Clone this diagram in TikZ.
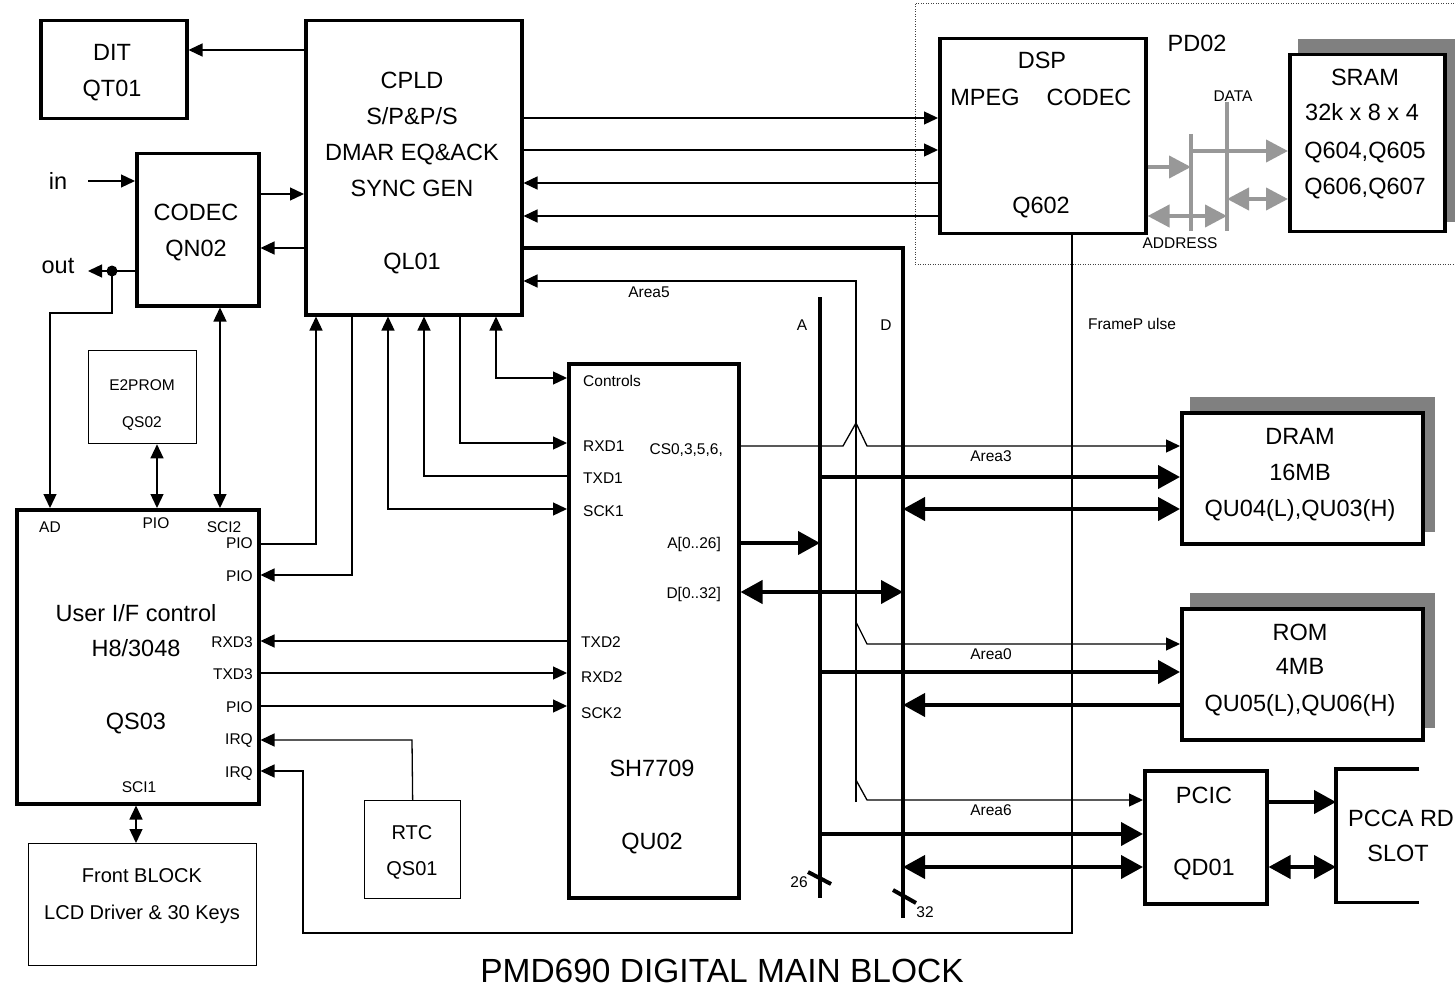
\documentclass[tikz,border=0pt]{standalone}
\usepackage{fontspec}
\setmainfont{Liberation Sans}
\usetikzlibrary{arrows.meta}
\definecolor{busgray}{RGB}{152,152,152}
\definecolor{shadowgray}{RGB}{128,128,128}
\begin{document}
\begin{tikzpicture}[x=1pt,y=-1pt,
 bx/.style={draw, line width=3.5pt, inner sep=0pt, anchor=north west, fill=white},
 tbx/.style={draw, line width=1.3pt, inner sep=0pt, anchor=north west, fill=white},
 big/.style={inner sep=0pt, text depth=0pt, text height=16.9pt, font=\fontsize{23.5}{28}\selectfont},
 midf/.style={inner sep=0pt, text depth=0pt, text height=14.4pt, font=\fontsize{20}{24}\selectfont},
 sm/.style={inner sep=0pt, text depth=0pt, text height=11.2pt, font=\fontsize{15.5}{18}\selectfont},
 ttl/.style={inner sep=0pt, text depth=0pt, text height=24pt, font=\fontsize{33.5}{38}\selectfont},
 wire/.style={line width=1.3pt},
 bus/.style={line width=4pt},
 gbus/.style={line width=4pt, draw=busgray},
 ta/.style={wire, -{Triangle[length=14pt,width=13pt]}},
 tb/.style={wire, {Triangle[length=14pt,width=13pt]}-{Triangle[length=14pt,width=13pt]}},
 ba/.style={bus, -{Triangle[length=22pt,width=23pt]}},
 bb/.style={bus, {Triangle[length=22pt,width=23pt]}-{Triangle[length=22pt,width=23pt]}},
 ga/.style={gbus, -{Triangle[length=22pt,width=22pt,fill=busgray]}},
 gb/.style={gbus, {Triangle[length=22pt,width=22pt,fill=busgray]}-{Triangle[length=22pt,width=22pt,fill=busgray]}},
]
\useasboundingbox (0,0) rectangle (1455,992);

% dotted group and shadows
\draw[line width=1pt, black!75, dash pattern=on 1pt off 1.5pt] (915,4) rectangle (1462,264);
\fill[shadowgray] (1298,39) rectangle (1458,222);
\fill[shadowgray] (1190,397) rectangle (1435,532);
\fill[shadowgray] (1190,593) rectangle (1435,728);

% boxes
\node[bx, minimum width=146pt, minimum height=98pt] (dit) at (39,19) {};
\node[bx, minimum width=216pt, minimum height=294pt] (cpld) at (304,19) {};
\node[bx, minimum width=122pt, minimum height=152pt] (codec) at (135,152) {};
\node[bx, minimum width=206pt, minimum height=195pt] (dsp) at (938,37) {};
\node[bx, minimum width=155pt, minimum height=177pt] (sram) at (1288,53) {};
\node[tbx, minimum width=108pt, minimum height=93pt] (e2p) at (88,350) {};
\node[bx, minimum width=242pt, minimum height=294pt] (qs03) at (15,508) {};
\node[bx, minimum width=170pt, minimum height=534pt] (sh) at (567,362) {};
\node[bx, minimum width=241pt, minimum height=131pt] (dram) at (1180,411) {};
\node[bx, minimum width=241pt, minimum height=131pt] (rom) at (1180,607) {};
\node[bx, minimum width=122pt, minimum height=133pt] (pcic) at (1143,769) {};
\node[tbx, minimum width=96pt, minimum height=98pt] (rtc) at (364,800) {};
\node[tbx, minimum width=228pt, minimum height=122pt] (front) at (28,843) {};
\node[inner sep=0pt, anchor=north west, minimum width=83pt, minimum height=133pt] (slot) at (1336,769) {};
\draw[line width=3.5pt] (slot.north east) -- (slot.north west) -- (slot.south west) -- (slot.south east);

% texts
\node[big] (tdit1) at (112,52) {DIT};
\node[big] (tdit2) at (112,88) {QT01};
\node[big] (tcp1) at (412,80) {CPLD};
\node[big] (tcp2) at (412,116) {S/P\&P/S};
\node[big] (tcp3) at (412,152) {DMAR EQ\&ACK};
\node[big] (tcp4) at (412,188) {SYNC GEN};
\node[big] (tcp5) at (412,261) {QL01};
\node[big] (tcod1) at (196,212) {CODEC};
\node[big] (tcod2) at (196,248) {QN02};
\node[big] (tin) at (58,181) {in};
\node[big] (tout) at (58,265) {out};
\node[big] (tdsp1) at (1042,60) {DSP};
\node[big] (tdsp2) at (985,97) {MPEG};
\node[big] (tdsp3) at (1089,97) {CODEC};
\node[big] (tdsp4) at (1041,205) {Q602};
\node[big] (tpd) at (1197,43) {PD02};
\node[big] (tsr1) at (1365,77) {SRAM};
\node[big] (tsr2) at (1362,112) {32k x 8 x 4};
\node[big] (tsr3) at (1365,150) {Q604,Q605};
\node[big] (tsr4) at (1365,186) {Q606,Q607};
\node[sm] (tdata) at (1233,96) {DATA};
\node[sm] (taddr) at (1180,243) {ADDRESS};
\node[sm] (tframe) at (1132,324) {FrameP ulse};
\node[sm] (tarea5) at (649,292) {Area5};
\node[sm] (tA) at (802,325) {A};
\node[sm] (tD) at (886,325) {D};
\node[sm] (te1) at (142,385) {E2PROM};
\node[sm] (te2) at (142,422) {QS02};
\node[sm, anchor=west] (tctl) at (583,381) {Controls};
\node[sm, anchor=west] (trxd1) at (583,446) {RXD1};
\node[sm, anchor=west] (ttxd1) at (583,478) {TXD1};
\node[sm, anchor=west] (tsck1) at (583,511) {SCK1};
\node[sm, anchor=east] (tcs) at (723,449) {CS0,3,5,6,};
\node[sm, anchor=east] (tabus) at (721,543) {A[0..26]};
\node[sm, anchor=east] (tdbus) at (721,593) {D[0..32]};
\node[sm, anchor=west] (ttxd2) at (581,642) {TXD2};
\node[sm, anchor=west] (trxd2) at (581,677) {RXD2};
\node[sm, anchor=west] (tsck2) at (581,713) {SCK2};
\node[big] (tsh1) at (652,768) {SH7709};
\node[big] (tsh2) at (652,841) {QU02};
\node[sm] (tarea3) at (991,456) {Area3};
\node[sm] (tarea0) at (991,654) {Area0};
\node[sm] (tarea6) at (991,810) {Area6};
\node[big] (tdr1) at (1300,436) {DRAM};
\node[big] (tdr2) at (1300,472) {16MB};
\node[big] (tdr3) at (1300,508) {QU04(L),QU03(H)};
\node[big] (tro1) at (1300,632) {ROM};
\node[big] (tro2) at (1300,666) {4MB};
\node[big] (tro3) at (1300,703) {QU05(L),QU06(H)};
\node[big] (tpc1) at (1204,795) {PCIC};
\node[big] (tpc2) at (1204,867) {QD01};
\node[big, anchor=west] (tsl1) at (1348,818) {PCCA RD};
\node[big] (tsl2) at (1398,853) {SLOT};
\node[sm] (tad) at (50,527) {AD};
\node[sm] (tpio0) at (156,523) {PIO};
\node[sm] (tsci2) at (224,527) {SCI2};
\node[sm, anchor=east] (tpio1) at (253,543) {PIO};
\node[sm, anchor=east] (tpio2) at (253,576) {PIO};
\node[sm, anchor=east] (trxd3) at (253,642) {RXD3};
\node[sm, anchor=east] (ttxd3) at (253,674) {TXD3};
\node[sm, anchor=east] (tpio3) at (253,707) {PIO};
\node[sm, anchor=east] (tirq1) at (253,739) {IRQ};
\node[sm, anchor=east] (tirq2) at (253,772) {IRQ};
\node[sm] (tsci1) at (139,787) {SCI1};
\node[big] (tq1) at (136,613) {User I/F control};
\node[big] (tq2) at (136,648) {H8/3048};
\node[big] (tq3) at (136,721) {QS03};
\node[midf] (trtc1) at (412,832) {RTC};
\node[midf] (trtc2) at (412,868) {QS01};
\node[midf] (tfr1) at (142,875) {Front BLOCK};
\node[midf] (tfr2) at (142,912) {LCD Driver \& 30 Keys};
\node[sm] (t26) at (799,882) {26};
\node[sm] (t32) at (925,912) {32};
\node[ttl] (title) at (722,970) {PMD690 DIGITAL MAIN BLOCK};

% connectors around CPLD / CODEC / DIT
\draw[ta] (cpld.west |- 0,50) -- (dit.east |- 0,50);
\coordinate (inp) at (88,181);
\draw[ta] (inp) -- (codec.west |- inp);
\draw[ta] (codec.east |- 0,194) -- (cpld.west |- 0,194);
\draw[ta] (cpld.west |- 0,248) -- (codec.east |- 0,248);
\node[circle, fill, inner sep=0pt, minimum size=11pt] (dotn) at (112,271) {};
\coordinate (outp) at (88,271);
\draw[ta] (codec.west |- dotn) -- (outp);
\draw[ta] (dotn.center) -- (112,313) -- (50,313) -- (qs03.north -| 50,0);
\draw[tb] (e2p.south -| 157,0) -- (qs03.north -| 157,0);
\draw[tb] (codec.south -| 220,0) -- (qs03.north -| 220,0);

% CPLD bottom connectors
\draw[ta] (qs03.east |- 0,544) -- (316,544) -- (cpld.south -| 316,0);
\draw[ta] (cpld.south -| 352,0) -- (352,575) -- (qs03.east |- 0,575);
\draw[tb] (cpld.south -| 388,0) -- (388,509) -- (sh.west |- 0,509);
\draw[ta] (sh.west |- 0,476) -- (424,476) -- (cpld.south -| 424,0);
\draw[ta] (cpld.south -| 460,0) -- (460,443) -- (sh.west |- 0,443);
\draw[tb] (cpld.south -| 496,0) -- (496,378) -- (sh.west |- 0,378);

% CPLD <-> DSP
\draw[ta] (cpld.east |- 0,118) -- (dsp.west |- 0,118);
\draw[ta] (cpld.east |- 0,150) -- (dsp.west |- 0,150);
\draw[ta] (dsp.west |- 0,183) -- (cpld.east |- 0,183);
\draw[ta] (dsp.west |- 0,216) -- (cpld.east |- 0,216);

% buses
\coordinate (dtop) at (903,248);
\coordinate (dbot) at (903,918);
\coordinate (atop) at (820,297);
\coordinate (abot) at (820,898);
\draw[bus] (cpld.east |- dtop) -- (dtop) -- (dbot);
\draw[bus] (atop) -- (abot);
\coordinate (cstop) at (856,281);
\coordinate (csbot) at (856,802);
\draw[ta] (csbot) -- (cstop) -- (cpld.east |- cstop);

% chip selects
\draw[wire] (sh.east |- 0,446) -- (843,446) -- (856,423);
\draw[ta] (856,423) -- (867,446) -- (dram.west |- 0,446);
\draw[ta] (856,622) -- (867,644) -- (rom.west |- 0,644);
\draw[ta] (856,780) -- (867,800) -- (pcic.west |- 0,800);

% thick address/data lines
\draw[ba] (atop |- 0,477) -- (dram.west |- 0,477);
\draw[bb] (dtop |- 0,509) -- (dram.west |- 0,509);
\draw[ba] (sh.east |- 0,543) -- (atop |- 0,543);
\draw[bb] (sh.east |- 0,592) -- (dtop |- 0,592);
\draw[ba] (atop |- 0,672) -- (rom.west |- 0,672);
\draw[ba] (rom.west |- 0,705) -- (dtop |- 0,705);
\draw[ba] (atop |- 0,834) -- (pcic.west |- 0,834);
\draw[bb] (dtop |- 0,867) -- (pcic.west |- 0,867);
\draw[ba] (pcic.east |- 0,802) -- (slot.west |- 0,802);
\draw[bb] (pcic.east |- 0,867) -- (slot.west |- 0,867);
\draw[bus] (808,872) -- (831,884);
\draw[bus] (893,890) -- (916,903);

% FrameP ulse, RTC, QS03 <-> SH
\draw[ta] (dsp.south -| 1072,0) -- (1072,933) -- (303,933) -- (303,771) -- (qs03.east |- 0,771);
\draw[ta] (rtc.north) -- (412,740) -- (qs03.east |- 0,740);
\draw[ta] (sh.west |- 0,641) -- (qs03.east |- 0,641);
\draw[ta] (qs03.east |- 0,673) -- (sh.west |- 0,673);
\draw[ta] (qs03.east |- 0,706) -- (sh.west |- 0,706);
\draw[tb] (qs03.south -| 136,0) -- (front.north -| 136,0);

% gray SRAM bus
\coordinate (addrtop) at (1191,134);
\coordinate (addrbot) at (1191,231);
\coordinate (datatop) at (1227,102);
\coordinate (databot) at (1227,231);
\draw[gbus] (addrtop) -- (addrbot);
\draw[gbus] (datatop) -- (databot);
\draw[ga] (dsp.east |- 0,167) -- (addrtop |- 0,167);
\draw[gb] (dsp.east |- 0,216) -- (datatop |- 0,216);
\draw[ga] (addrtop |- 0,151) -- (sram.west |- 0,151);
\draw[gb] (datatop |- 0,199) -- (sram.west |- 0,199);
\end{tikzpicture}
\end{document}
